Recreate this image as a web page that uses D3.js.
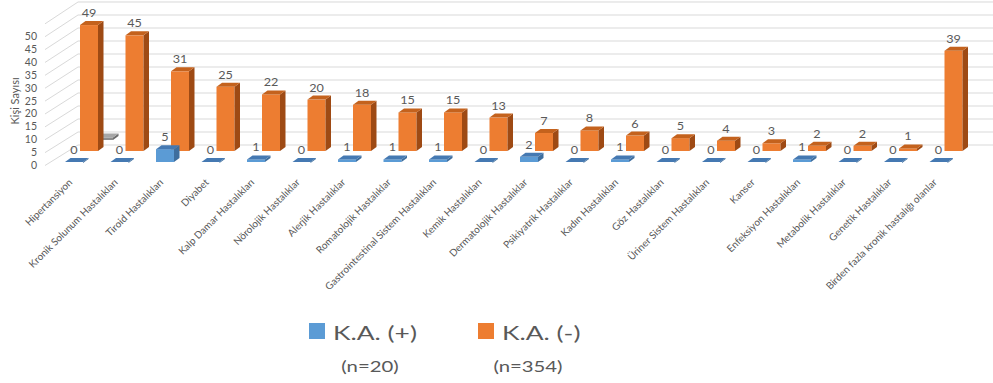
<!DOCTYPE html>
<html>
<head>
<meta charset="utf-8">
<script src="https://cdn.jsdelivr.net/npm/d3@7"></script>
<style>
  html, body { margin: 0; padding: 0; background: #fff; }
  svg { display: block; }
  text { font-family: Lato, "Liberation Sans", sans-serif; fill: #595959; }
</style>
</head>
<body>
<svg id="chart" width="993" height="383"></svg>
<script>
// Disease groups along the horizontal axis
const categories = [
  "Hipertansiyon", "Kronik Solunum Hastalıkları", "Tiroid Hastalıkları", "Diyabet",
  "Kalp Damar Hastalıkları", "Nörolojik Hastalıklar", "Alerjik Hastalıklar",
  "Romatolojik Hastalıklar", "Gastrointestinal Sistem Hastalıkları", "Kemik Hastalıkları",
  "Dermatolojik Hastalıklar", "Psikiyatrik Hastalıklar", "Kadın Hastalıkları",
  "Göz Hastalıkları", "Üriner Sistem Hastalıkları", "Kanser", "Enfeksiyon Hastalıkları",
  "Metabolik Hastalıklar", "Genetik Hastalıklar", "Birden fazla kronik hastalığı olanlar"
];
// Person counts per group
const kaPositive = [0, 0, 5, 0, 1, 0, 1, 1, 1, 0, 2, 0, 1, 0, 0, 0, 1, 0, 0, 0];
const kaNegative = [49, 45, 31, 25, 22, 20, 18, 15, 15, 13, 7, 8, 6, 5, 4, 3, 2, 2, 1, 39];
// Third (unlabelled) row: only the first group has an entry
const thirdRow = [1, null, null, null, null, null, null, null, null, null,
                  null, null, null, null, null, null, null, null, null, null];
const yTicks = [0, 5, 10, 15, 20, 25, 30, 35, 40, 45, 50];
const wallLines = [0, 5, 10, 15, 20, 25, 30, 35, 40, 45, 50, 55];
const legendNames = ["K.A. (+)", "K.A. (-)"];
const legendCounts = ["(n=20)", "(n=354)"];

const svg = d3.select("#chart");

// Oblique 3D projection settings
const ROW_DX = 15, ROW_DY = 11;     // shift from one series row to the next one behind it
const DEP_DX = 5.5, DEP_DY = 4;     // bar thickness in depth
const FRONT_BASE = 162;             // floor line of the front row

const x = d3.scaleBand()
  .domain(categories)
  .range([65, 65 + 19 * 45.5 + 18])
  .paddingInner(1 - 18 / 45.5)
  .paddingOuter(0)
  .align(0);

const h = d3.scaleLinear().domain([0, 50]).range([0, 50 * 2.57]);
const yFront = d3.scaleLinear().domain([0, 50]).range([165.5, 36.7]);
const yWall = d3.scaleLinear().domain([0, 50]).range([145, 15]);
const WALL_X0 = 78, FRONT_X0 = 45;

const grid = svg.append("g").attr("stroke", "#d9d9d9").attr("stroke-width", 1).attr("fill", "none");
// side wall diagonals
grid.selectAll("line.side").data(wallLines).join("line")
  .attr("class", "side")
  .attr("x1", FRONT_X0).attr("y1", d => yFront(d))
  .attr("x2", WALL_X0).attr("y2", d => yWall(d));
// back wall horizontals
grid.selectAll("line.back").data(wallLines).join("line")
  .attr("class", "back")
  .attr("x1", WALL_X0).attr("y1", d => yWall(d))
  .attr("x2", 993).attr("y2", d => yWall(d));

// Y axis tick labels
svg.append("g").selectAll("text").data(yTicks).join("text")
  .attr("x", 37).attr("y", d => yFront(d) + 3.5)
  .attr("text-anchor", "end")
  .attr("font-size", 10.5)
  .text(d => d);

// Y axis title
svg.append("text")
  .attr("transform", "translate(19,101) rotate(-90)")
  .attr("text-anchor", "middle")
  .attr("font-size", 11)
  .text("Kişi Sayısı");

function drawRow(values, row, colors, withLabels) {
  const g = svg.append("g");
  const items = values.map((v, i) => ({ v, i })).filter(d => d.v !== null);
  const geo = d => {
    const x0 = x(categories[d.i]) + row * ROW_DX;
    const base = FRONT_BASE - row * ROW_DY;
    const w = x.bandwidth();
    const top = base - h(d.v);
    return { x0, base, w, top };
  };
  const bars = g.selectAll("g.bar").data(items).join("g").attr("class", "bar");
  bars.each(function (d) {
    const { x0, base, w, top } = geo(d);
    const b = d3.select(this);
    if (d.v > 0) {
      b.append("rect").attr("x", x0).attr("y", top).attr("width", w).attr("height", base - top)
        .attr("fill", colors.front);
      b.append("path").attr("fill", colors.side)
        .attr("d", `M${x0 + w},${base}L${x0 + w + DEP_DX},${base - DEP_DY}L${x0 + w + DEP_DX},${top - DEP_DY}L${x0 + w},${top}Z`);
    }
    b.append("path").attr("fill", colors.top)
      .attr("d", `M${x0},${top}L${x0 + w},${top}L${x0 + w + DEP_DX},${top - DEP_DY}L${x0 + DEP_DX},${top - DEP_DY}Z`);
    if (d.v === 0) {
      b.append("path").attr("fill", colors.side)
        .attr("d", `M${x0 + w},${top}L${x0 + w + DEP_DX},${top - DEP_DY}L${x0 + w + DEP_DX},${top - DEP_DY + 1}L${x0 + w},${top + 1}Z`);
    }
  });
  if (withLabels) {
    g.selectAll("text").data(items).join("text")
      .attr("text-anchor", "middle")
      .attr("font-size", 11)
      .attr("transform", d => {
        const { x0, w, top } = geo(d);
        return `translate(${x0 + w / 2},${top - DEP_DY - 4}) scale(1.15,1)`;
      })
      .text(d => d.v);
  }
}

// back to front so nearer rows cover farther ones
drawRow(thirdRow, 2, { front: "#8c8c8c", side: "#6b6b6b", top: "#a6a6a6" }, false);
drawRow(kaNegative, 1, { front: "#ed7d31", side: "#9e4a14", top: "#c4621d" }, true);
drawRow(kaPositive, 0, { front: "#5b9bd5", side: "#3e6e9e", top: "#4579b2" }, true);

// Category labels
svg.append("g").selectAll("text").data(categories).join("text")
  .attr("text-anchor", "end")
  .attr("font-size", 10)
  .attr("transform", d => `translate(${x(d) + x.bandwidth() / 2 - 1},${183}) rotate(-45)`)
  .text(d => d);

// Legend
const legendX = [309, 478];
const countCenters = [370, 528];
const legendColors = ["#5b9bd5", "#ed7d31"];
const lg = svg.append("g");
legendNames.forEach((name, i) => {
  lg.append("rect").attr("x", legendX[i]).attr("y", 323).attr("width", 16).attr("height", 16)
    .attr("fill", legendColors[i]);
  lg.append("text").attr("font-size", 20)
    .attr("transform", `translate(${legendX[i] + 24},340) scale(1.32,1)`)
    .text(name);
  lg.append("text").attr("font-size", 16).attr("text-anchor", "middle")
    .attr("transform", `translate(${countCenters[i]},372) scale(1.27,1)`)
    .text(legendCounts[i]);
});
</script>
</body>
</html>
